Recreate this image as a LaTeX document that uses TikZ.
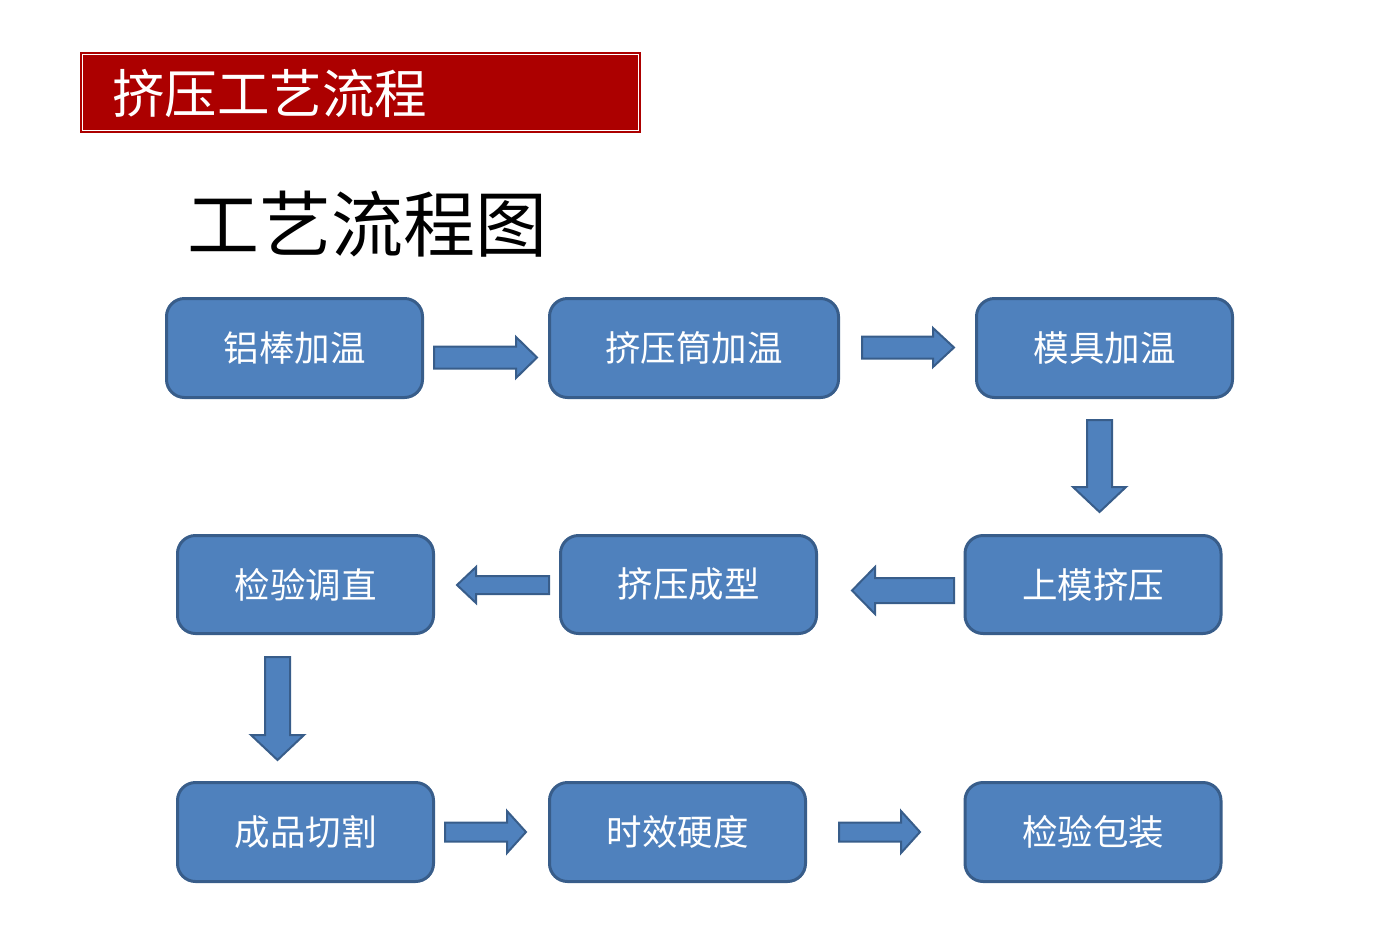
\documentclass[tikz,border=0pt]{standalone}
\usepackage{fontspec}
\newfontfamily\cjk{Noto Sans CJK SC}
\usetikzlibrary{positioning}

\definecolor{boxblue}{HTML}{4F81BD}
\definecolor{boxedge}{HTML}{385D8A}
\definecolor{titlered}{HTML}{AC0000}

\tikzset{
    stepbox/.style={rectangle, rounded corners=18pt, fill=boxblue, draw=boxedge,
        line width=3pt, minimum width=256pt, minimum height=99pt, inner sep=0pt,
        text=white, font=\cjk\fontsize{35.5}{35.5}\selectfont},
    flowarrow/.style={fill=boxblue, draw=boxedge, line width=2pt, line join=miter},
}

\begin{document}
\begin{tikzpicture}[x=1pt, y=-1pt]
    \useasboundingbox (0,0) rectangle (1400,930);
    % title bar
    \fill[titlered] (80,52) rectangle (641,133);
    \draw[white, line width=1.2pt] (82.5,54.5) rectangle (638.5,130.5);
    \node[anchor=west, text=white, inner sep=0pt, font=\cjk\fontsize{52.5}{52.5}\selectfont] (title) at (112,93) {挤压工艺流程};
    \node[anchor=west, inner sep=0pt, font=\cjk\fontsize{72}{72}\selectfont] (heading) at (187,224) {工艺流程图};

    % process steps
    \node[stepbox] (heat) at (294.5,348) {铝棒加温};
    \node[stepbox, minimum width=289pt] (barrel) at (694,348) {挤压筒加温};
    \node[stepbox] (die) at (1104.5,348) {模具加温};
    \node[stepbox, minimum height=98pt] (press) at (1093,584.5) {上模挤压};
    \node[stepbox, minimum height=98pt] (form) at (688.5,584.5) {挤压成型};
    \node[stepbox, minimum height=98pt] (check) at (305.5,584.5) {检验调直};
    \node[stepbox] (cut) at (305.5,832) {成品切割};
    \node[stepbox] (age) at (677.5,832) {时效硬度};
    \node[stepbox] (pack) at (1093,832) {检验包装};

    % block arrows
    \draw[flowarrow] (434,346.5) -- (516,346.5) -- (516,337) -- (537,357.5) -- (516,378) -- (516,368.5) -- (434,368.5) -- cycle;
    \draw[flowarrow] (862,336.5) -- (933,336.5) -- (933,328) -- (954,347.5) -- (933,367) -- (933,358.5) -- (862,358.5) -- cycle;
    \draw[flowarrow] (1087,420) -- (1112,420) -- (1112,487) -- (1126,487) -- (1099.5,512) -- (1073,487) -- (1087,487) -- cycle;
    \draw[flowarrow] (954,578) -- (875,578) -- (875,567) -- (852,590.5) -- (875,614) -- (875,603) -- (954,603) -- cycle;
    \draw[flowarrow] (549,576) -- (476,576) -- (476,567) -- (457,585) -- (476,603) -- (476,594) -- (549,594) -- cycle;
    \draw[flowarrow] (265,657) -- (290,657) -- (290,735) -- (304,735) -- (277.5,760) -- (251,735) -- (265,735) -- cycle;
    \draw[flowarrow] (445,822.5) -- (507,822.5) -- (507,811) -- (526,832) -- (507,853) -- (507,841.5) -- (445,841.5) -- cycle;
    \draw[flowarrow] (839,822.5) -- (901,822.5) -- (901,811) -- (920,832) -- (901,853) -- (901,841.5) -- (839,841.5) -- cycle;
\end{tikzpicture}
\end{document}
